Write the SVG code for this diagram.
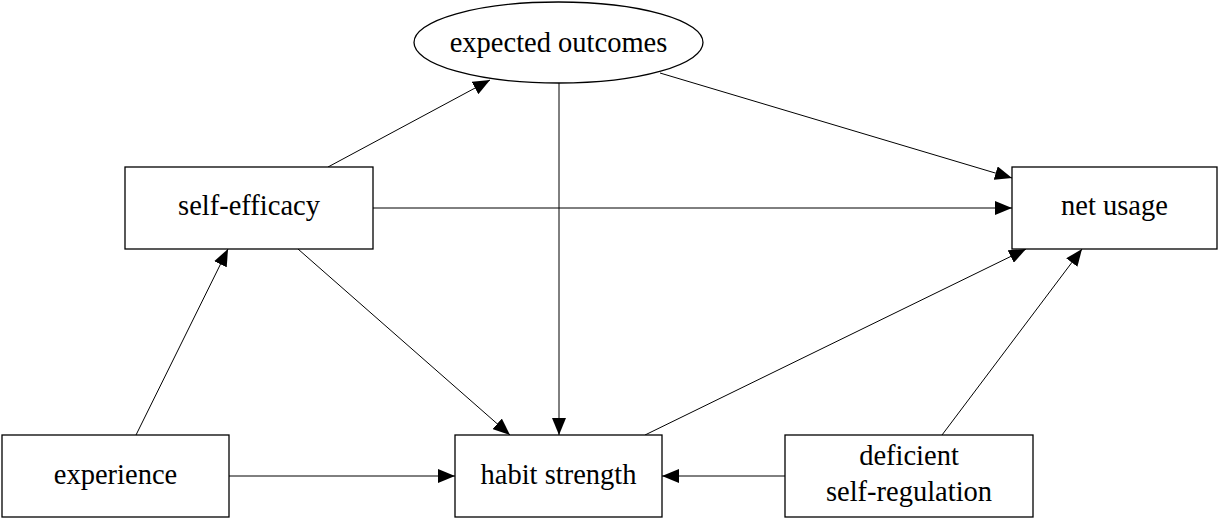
<svg xmlns="http://www.w3.org/2000/svg" width="1219" height="518" viewBox="0 0 1219 518">
<style>
.box{fill:#fff;stroke:#000;stroke-width:1.3}
.lbl{font-family:'Liberation Serif','Times New Roman',Times,'DejaVu Serif',serif;font-size:28.5px;fill:#000;text-anchor:middle}
.edge{stroke:#000;stroke-width:1;fill:none;marker-end:url(#ah)}
</style>
<defs>
<marker id="ah" markerUnits="userSpaceOnUse" markerWidth="18" markerHeight="14" refX="17" refY="7" orient="auto">
<path d="M0,0 L17,7 L0,14 Z" fill="#000"/>
</marker>
</defs>
<rect width="1219" height="518" fill="#fff"/>
<g id="connectors">
<line class="edge" x1="328" y1="167" x2="490" y2="80"/>
<line class="edge" x1="660" y1="73" x2="1012" y2="178"/>
<line class="edge" x1="373" y1="208" x2="1012" y2="208"/>
<line class="edge" x1="559" y1="83" x2="559" y2="435"/>
<line class="edge" x1="298" y1="249" x2="510" y2="435"/>
<line class="edge" x1="136" y1="435" x2="228" y2="249"/>
<line class="edge" x1="229" y1="476" x2="455" y2="476"/>
<line class="edge" x1="785" y1="476" x2="662" y2="476"/>
<line class="edge" x1="645" y1="435" x2="1026" y2="249"/>
<line class="edge" x1="942" y1="435" x2="1082" y2="249"/>
</g>
<g id="expected-outcomes">
<ellipse class="box" cx="558.5" cy="42.5" rx="144.5" ry="40.5"/>
<text class="lbl" font-family="Liberation Serif, serif" x="558.5" y="52">expected outcomes</text>
</g>
<g id="self-efficacy">
<rect class="box" x="125" y="167" width="248" height="82"/>
<text class="lbl" font-family="Liberation Serif, serif" x="249" y="215">self-efficacy</text>
</g>
<g id="net-usage">
<rect class="box" x="1012" y="167" width="205" height="82"/>
<text class="lbl" font-family="Liberation Serif, serif" x="1114.5" y="215">net usage</text>
</g>
<g id="experience">
<rect class="box" x="2" y="435" width="227" height="82"/>
<text class="lbl" font-family="Liberation Serif, serif" x="115.5" y="484">experience</text>
</g>
<g id="habit-strength">
<rect class="box" x="455" y="435" width="207" height="82"/>
<text class="lbl" font-family="Liberation Serif, serif" x="558.5" y="484">habit strength</text>
</g>
<g id="deficient-self-regulation">
<rect class="box" x="785" y="435" width="248" height="82"/>
<text class="lbl" font-family="Liberation Serif, serif" x="909" y="465">deficient</text>
<text class="lbl" font-family="Liberation Serif, serif" x="909" y="501">self-regulation</text>
</g>
</svg>
